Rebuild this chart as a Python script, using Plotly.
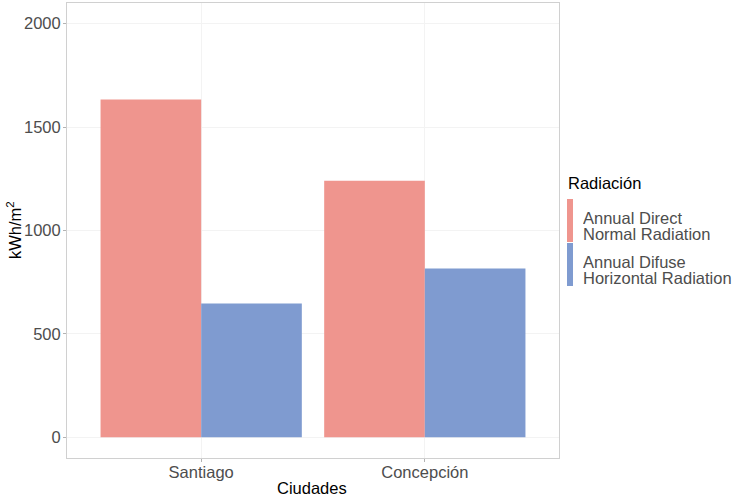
import plotly.graph_objects as go

ciudades = ["Santiago", "Concepción"]
series_lines = [["Annual Direct", "Normal Radiation"], ["Annual Difuse", "Horizontal Radiation"]]
series_names = ["<br>".join(l) for l in series_lines]
dnr = [1633, 1241]
dhr = [647, 816]
colors = ["#EF958E", "#7F9BD0"]

fig = go.Figure()
for name, vals, c in zip(series_names, [dnr, dhr], colors):
    fig.add_trace(go.Bar(x=ciudades, y=vals, name=name, marker_color=c,
                         marker_line_width=0, showlegend=False))

font = "Liberation Sans, Arial, sans-serif"
FS = 16.5
L, R, T, B = 67, 559, 3, 458
PW, PH = R - L, B - T
fig.update_layout(
    width=738, height=500,
    margin=dict(l=L, r=738 - R, t=T, b=500 - B, autoexpand=False),
    paper_bgcolor="white", plot_bgcolor="white",
    barmode="group", bargap=0.1, bargroupgap=0,
    font=dict(family=font, size=FS, color="#4D4D4D"),
)
fig.update_xaxes(
    automargin=False,
    showgrid=True, gridcolor="#F3F3F3", gridwidth=1,
    ticks="outside", ticklen=3, tickcolor="#B3B3B3",
    showline=True, linecolor="#D0D0D0", mirror=True,
    tickfont=dict(size=FS, color="#4D4D4D"), range=[-0.6, 1.6],
    ticklabelstandoff=-4,
)
fig.update_yaxes(
    automargin=False,
    range=[-100, 2100], tickvals=[0, 500, 1000, 1500, 2000],
    showgrid=True, gridcolor="#F3F3F3", gridwidth=1,
    ticks="outside", ticklen=3, tickcolor="#B3B3B3",
    showline=True, linecolor="#D0D0D0", mirror=True, zeroline=False,
    tickfont=dict(size=FS, color="#4D4D4D"),
    ticklabelstandoff=-1,
)

def px(x):
    return (x - L) / PW

def py(y):
    return (B - y) / PH

# Axis titles
fig.add_annotation(text="Ciudades", xref="paper", yref="paper",
                   x=px(312), y=py(488), xanchor="center", yanchor="middle",
                   showarrow=False, font=dict(size=FS, color="black"))
fig.add_annotation(text="kWh/m<sup>2</sup>", xref="paper", yref="paper",
                   x=px(14), y=py(230), xanchor="center", yanchor="middle",
                   textangle=-90, showarrow=False, font=dict(size=FS, color="black"))

# Legend drawn manually (ggplot-style narrow keys)
fig.add_annotation(text="Radiación", xref="paper", yref="paper",
                   x=px(566), y=py(183), xanchor="left", yanchor="middle",
                   showarrow=False, font=dict(size=FS, color="black"))
key_tops = [199, 243]
key_h = 43
for i, (lines, c) in enumerate(zip(series_lines, colors)):
    top = key_tops[i]
    fig.add_shape(type="rect", xref="paper", yref="paper",
                  x0=px(567), x1=px(573), y0=py(top + key_h), y1=py(top),
                  fillcolor=c, line_width=0)
    for j, line in enumerate(lines):
        fig.add_annotation(text=line, xref="paper", yref="paper",
                           x=px(582), y=py(top + 18 + 16 * j), xanchor="left", yanchor="middle",
                           align="left", showarrow=False, borderpad=0, height=15,
                           font=dict(size=FS, color="#4D4D4D"))

fig.write_html("out.html", config={"displayModeBar": False},
               post_script="document.body.style.margin='0';")
